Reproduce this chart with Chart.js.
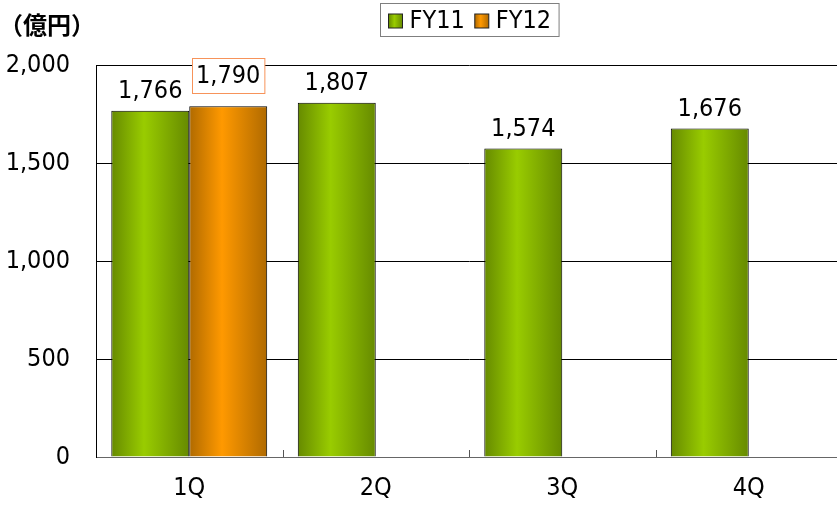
<!DOCTYPE html>
<html lang="ja">
<head>
<meta charset="utf-8">
<title>FY11 / FY12</title>
<script src="https://cdn.jsdelivr.net/npm/chart.js@4.4.1/dist/chart.umd.min.js"></script>
<style>
html, body { margin: 0; padding: 0; background: #fff; overflow: hidden; }
#wrap { position: relative; width: 846px; height: 506px; }
</style>
</head>
<body>
<div id="wrap"><canvas id="salesChart"></canvas></div>
<script>
// 카테고리 / 계열 데이터
const quarters = ['1Q', '2Q', '3Q', '4Q'];
const fy11Values = [1766, 1807, 1574, 1676];
const fy12Values = [1790, null, null, null];
const seriesNames = ['FY11', 'FY12'];
const yTicks = [0, 500, 1000, 1500, 2000];
const unitLabel = '（億円）';

// 글꼴
const NUM_FONT = '"Liberation Sans Narrow", "DejaVu Sans Condensed", "Noto Sans CJK JP", sans-serif';
const JP_FONT = '"Noto Sans CJK JP", sans-serif';

// 색상
const COLORS = {
    FY11: { edge: '#668a00', mid: '#99cc00' },
    FY12: { edge: '#b06a00', mid: '#ff9900' }
};
const CAT_PCT = 0.836;

// 막대 그라데이션 (가로 방향)
function barFill(c) {
    const chart = c.chart;
    const xs = chart.scales.x;
    const col = COLORS[seriesNames[c.datasetIndex]];
    if (!xs || !chart.chartArea || c.dataIndex === undefined) return col.mid;
    const step = xs.width / quarters.length;
    const w = step * CAT_PCT / 2;
    const center = xs.getPixelForTick(c.dataIndex);
    const left = c.datasetIndex === 0 ? center - w : center;
    const g = chart.ctx.createLinearGradient(left, 0, left + w, 0);
    g.addColorStop(0, col.edge);
    g.addColorStop(0.42, col.mid);
    g.addColorStop(1, col.edge);
    return g;
}

const fmt = v => v.toLocaleString('en-US');

// 라벨, 범례, 눈금 표시
const decorPlugin = {
    id: 'decor',
    afterDraw(chart) {
        const { ctx, chartArea, scales } = chart;
        const xs = scales.x;
        ctx.save();

        // 카테고리 경계 눈금 (위쪽)
        ctx.strokeStyle = '#555';
        ctx.lineWidth = 1;
        for (let i = 1; i < quarters.length; i++) {
            const x = Math.round((xs.getPixelForTick(i - 1) + xs.getPixelForTick(i)) / 2) + 0.5;
            ctx.beginPath();
            ctx.moveTo(x, chartArea.bottom);
            ctx.lineTo(x, chartArea.bottom - 7);
            ctx.stroke();
        }

        // 데이터 라벨
        ctx.font = '25px ' + NUM_FONT;
        ctx.textAlign = 'center';
        ctx.textBaseline = 'middle';
        chart.data.datasets.forEach((ds, di) => {
            const meta = chart.getDatasetMeta(di);
            meta.data.forEach((el, i) => {
                const v = ds.data[i];
                if (v === null || v === undefined) return;
                const text = fmt(v);
                if (di === 1) {
                    const cy = el.y - 31;
                    const tw = ctx.measureText(text).width;
                    const bw = tw + 8, bh = 35;
                    const bx = Math.round(el.x - bw / 2) + 0.5, by = Math.round(cy - bh / 2) + 0.5;
                    ctx.fillStyle = '#fff';
                    ctx.fillRect(bx, by, bw, bh);
                    ctx.strokeStyle = '#f7935a';
                    ctx.strokeRect(bx, by, bw, bh);
                    ctx.fillStyle = '#000';
                    ctx.fillText(text, el.x, cy + 1);
                } else {
                    ctx.fillStyle = '#000';
                    ctx.fillText(text, el.x, el.y - 19);
                }
            });
        });

        // 단위
        ctx.font = 'bold 24px ' + JP_FONT;
        ctx.textAlign = 'left';
        ctx.fillStyle = '#000';
        ctx.fillText(unitLabel, -1, 25);

        // 범례
        ctx.font = '25px ' + NUM_FONT;
        const widths = seriesNames.map(n => ctx.measureText(n).width);
        const sw = 14, padL = 8, padR = 8, gapText = 7, gapItem = 10;
        const total = padL + padR + widths.reduce((a, w) => a + sw + gapText + w, 0) + gapItem;
        const boxL = Math.round((chartArea.left + chartArea.right) / 2 - total / 2) + 0.5;
        const boxT = 3.5, boxH = 33;
        ctx.strokeStyle = '#7f7f7f';
        ctx.strokeRect(boxL, boxT, total, boxH);
        let x = boxL + padL;
        seriesNames.forEach((n, i) => {
            const g = ctx.createLinearGradient(x, 0, x + sw, 0);
            g.addColorStop(0, COLORS[n].edge);
            g.addColorStop(0.42, COLORS[n].mid);
            g.addColorStop(1, COLORS[n].edge);
            ctx.fillStyle = g;
            ctx.fillRect(x, 14, sw, sw);
            ctx.strokeStyle = '#222';
            ctx.strokeRect(x, 14, sw, sw);
            ctx.fillStyle = '#000';
            ctx.fillText(n, x + sw + gapText, 21);
            x += sw + gapText + widths[i] + gapItem;
        });

        ctx.restore();
    }
};

const barStyle = {
    backgroundColor: barFill,
    borderColor: '#000',
    borderWidth: 1,
    barPercentage: 1,
    categoryPercentage: CAT_PCT
};

document.addEventListener('DOMContentLoaded', () => {
    const canvas = document.getElementById('salesChart');
    new Chart(canvas, {
        type: 'bar',
        data: {
            labels: quarters,
            datasets: [
                { label: seriesNames[0], data: fy11Values, ...barStyle },
                { label: seriesNames[1], data: fy12Values, ...barStyle }
            ]
        },
        options: {
            responsive: true,
            maintainAspectRatio: false,
            animation: false,
            layout: { padding: { top: 65, left: 0, right: 4, bottom: 0 } },
            plugins: {
                colors: { enabled: false },
                legend: { display: false },
                tooltip: { enabled: false }
            },
            scales: {
                x: {
                    grid: { display: false, drawTicks: false },
                    border: { display: true, color: '#666', width: 1 },
                    ticks: {
                        color: '#000',
                        padding: 16,
                        font: { family: NUM_FONT, size: 25 }
                    },
                    afterFit: s => { s.height = 49; }
                },
                y: {
                    min: 0,
                    max: 2000,
                    afterBuildTicks: s => { s.ticks = yTicks.map(v => ({ value: v })); },
                    grid: {
                        color: c => (c.tick && c.tick.value === 0) ? '#666' : '#000',
                        lineWidth: 1,
                        drawTicks: false
                    },
                    border: { display: true, color: '#000', width: 1 },
                    ticks: {
                        color: '#000',
                        padding: 26,
                        font: { family: NUM_FONT, size: 25 },
                        callback: v => fmt(v)
                    },
                    afterFit: s => { s.width = 96; }
                }
            }
        },
        plugins: [decorPlugin]
    });
});
</script>
</body>
</html>
